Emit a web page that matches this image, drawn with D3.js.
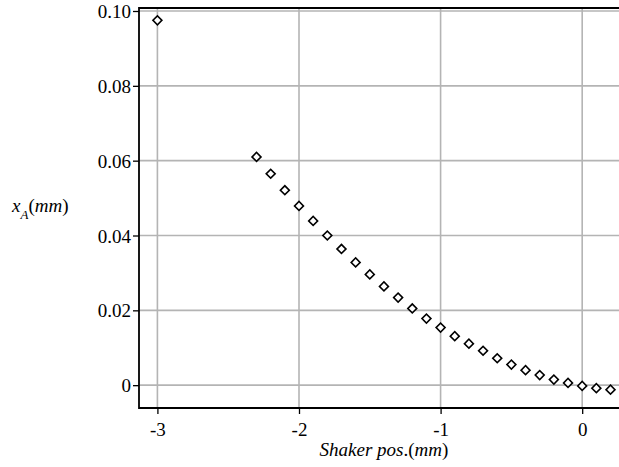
<!DOCTYPE html>
<html>
<head>
<meta charset="utf-8">
<script src="https://cdn.jsdelivr.net/npm/d3@7"></script>
<style>
  body { margin: 0; background: #fff; }
  svg text { font-family: "Liberation Serif", "Tinos", "Times New Roman", Times, "Nimbus Roman", "FreeSerif", "Noto Serif", "DejaVu Serif", serif !important; }
</style>
</head>
<body>
<svg id="base" width="619" height="467"></svg>
<script>
(function () {
    // data
    const shakerPos = [-3, -2.3, -2.2, -2.1, -2.0, -1.9, -1.8, -1.7, -1.6, -1.5, -1.4, -1.3,
        -1.2, -1.1, -1.0, -0.9, -0.8, -0.7, -0.6, -0.5, -0.4, -0.3, -0.2, -0.1, 0, 0.1, 0.2];
    const xA = [0.0975, 0.0610, 0.0565, 0.0521, 0.0479, 0.0439, 0.0400, 0.0364, 0.0328,
        0.0296, 0.0264, 0.0234, 0.0205, 0.0178, 0.0154, 0.0131, 0.0111, 0.0092, 0.0072,
        0.0055, 0.0040, 0.0027, 0.0015, 0.0006, -0.0002, -0.0008, -0.0012];
    const xTicks = [-3, -2, -1, 0];
    const yTicks = [0, 0.02, 0.04, 0.06, 0.08, 0.1];
    const yTickLabels = ["0", "0.02", "0.04", "0.06", "0.08", "0.10"];

    const base = d3.select("#base");
    const left = 139, right = 619, top = 8, bottom = 408;

    const x = d3.scaleLinear().domain([-3.13, 0.26]).range([left, right]);
    const y = d3.scaleLinear().domain([-0.0061, 0.1008]).range([bottom, top]);

    // grid
    base.append("g")
        .selectAll("line")
        .data(xTicks)
        .enter()
        .append("line")
        .attr("x1", (d) => x(d)).attr("x2", (d) => x(d))
        .attr("y1", top).attr("y2", bottom)
        .attr("stroke", "#b4b4b4")
        .attr("stroke-width", 1.6);
    base.append("g")
        .selectAll("line")
        .data(yTicks)
        .enter()
        .append("line")
        .attr("x1", left).attr("x2", right)
        .attr("y1", (d) => y(d)).attr("y2", (d) => y(d))
        .attr("stroke", "#b4b4b4")
        .attr("stroke-width", 1.6);

    // axes
    const xAxis = d3.axisBottom(x)
        .tickValues(xTicks)
        .tickSize(6)
        .tickPadding(8)
        .tickFormat((d) => (d < 0 ? "-" + Math.abs(d) : d));
    const yAxis = d3.axisLeft(y)
        .tickValues(yTicks)
        .tickSize(6)
        .tickPadding(2)
        .tickFormat((d, i) => yTickLabels[i]);

    const gx = base.append("g").attr("transform", `translate(0,${bottom})`).call(xAxis);
    const gy = base.append("g").attr("transform", `translate(${left},0)`).call(yAxis);
    [gx, gy].forEach((g) => {
        g.attr("font-family", null);
        g.select(".domain").remove();
        g.selectAll(".tick line").attr("stroke", "#000").attr("stroke-width", 1.3);
        g.selectAll("text")
            .attr("fill", "#000")
            .style("font-size", "19px");
    });
    gy.selectAll("text").attr("dy", "0.35em");
    gx.selectAll("text").attr("dy", "0.75em");

    // frame lines (left, bottom, top)
    base.append("path")
        .attr("d", `M${right},${top}H${left}V${bottom}H${right}`)
        .attr("fill", "none")
        .attr("stroke", "#000")
        .attr("stroke-width", 1.8);

    // points
    const diamond = d3.symbol().type(d3.symbolSquare).size(40);
    base.append("g")
        .selectAll("path")
        .data(shakerPos.map((p, i) => [p, xA[i]]))
        .enter()
        .append("path")
        .attr("d", diamond)
        .attr("transform", (d) => `translate(${x(d[0])},${y(d[1])}) rotate(45)`)
        .attr("fill", "#fff")
        .attr("stroke", "#000")
        .attr("stroke-width", 1.6);

    // titles
    const xt = base.append("text")
        .attr("x", 384).attr("y", 456)
        .attr("text-anchor", "middle")
        .style("font-size", "19px");
    xt.append("tspan").style("font-style", "italic").text("Shaker pos");
    xt.append("tspan").text(".(");
    xt.append("tspan").style("font-style", "italic").text("mm");
    xt.append("tspan").text(")");

    const yt = base.append("text")
        .attr("x", 12).attr("y", 212)
        .style("font-size", "19px");
    yt.append("tspan").style("font-style", "italic").text("x");
    yt.append("tspan").attr("dy", 7).style("font-style", "italic").style("font-size", "13px").text("A");
    yt.append("tspan").attr("dy", -7).text("(");
    yt.append("tspan").style("font-style", "italic").text("mm");
    yt.append("tspan").text(")");
})();
</script>
</body>
</html>
